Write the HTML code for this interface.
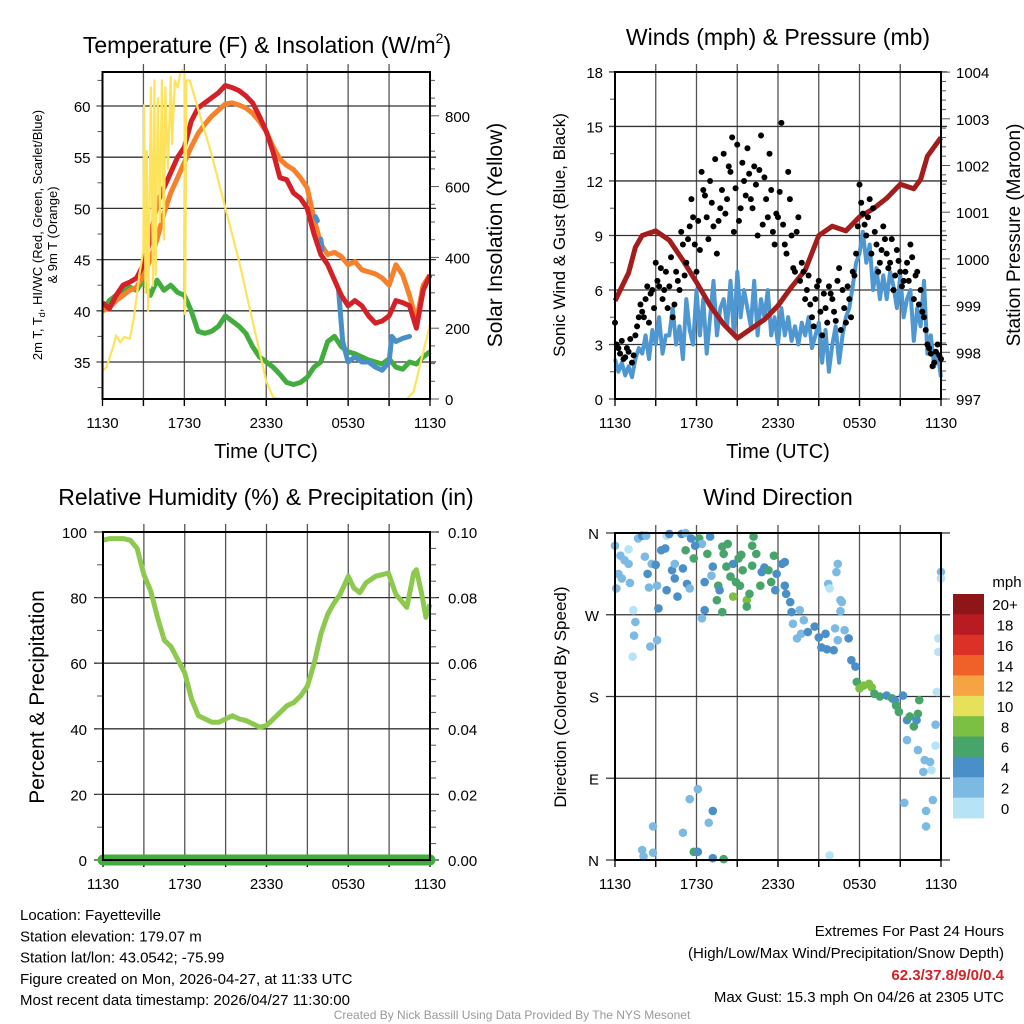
<!DOCTYPE html>
<html><head><meta charset="utf-8"><style>
html,body{margin:0;padding:0;background:#fff;}
svg{display:block;font-family:"Liberation Sans",sans-serif;}
</style></head><body>
<svg id="c" width="1024" height="1024" viewBox="0 0 1024 1024" xmlns="http://www.w3.org/2000/svg"></svg>
<script>
// ---------- DATA ----------
const tickLabels = ["1130","1730","2330","0530","1130"];
const tHours = [0,0.5,1,1.5,2,2.5,3,3.5,4,4.5,5,5.5,6,6.5,7,7.5,8,8.5,9,9.5,10,10.5,11,11.5,12,12.5,13,13.5,14,14.5,15,15.5,16,16.5,17,17.5,18,18.5,19,19.5,20,20.5,21,21.5,22,22.5,23,23.5,24];
const tempRed = [40.8,40.2,41.5,42.5,42.8,43.2,44.5,47,50.5,52,53.5,55,56,58.5,59.8,60.3,60.8,61.3,62,61.8,61.5,61,60.3,59,57.5,55.5,53,52.8,51.5,51,50,47.5,45.5,44.5,43,41.5,40.5,41,40.5,39.5,38.8,39,39.5,41,40.8,40.5,38.3,42,43.5];
const temp9m = [40,40.3,41,41.5,42,42.3,43.5,45,47,49.5,51.5,53,54.5,56,57.3,58.2,59,59.6,60.2,60.3,60.1,59.8,59.3,58.5,57.5,56,54.8,54.2,53.8,53,52,49,46.5,45.5,45.7,45.3,44.5,44.8,44,43.8,43.6,43.2,42.5,44.5,43.5,41.5,39,42.5,43.5];
const dewGreen = [40,41,41.5,42,42.3,42,43,41.5,43,42,42.5,41.8,41.5,40,38,37.8,38,38.5,39.5,39,38.5,37.8,36.5,35.5,35,34.5,33.8,33,32.8,33,33.5,34.5,35,37,37.5,36.5,36,35.8,35.5,35.2,35,34.8,35.3,34.5,34.3,35,34.8,35.5,36];
const wcHours = [15.6,15.75,15.8,16.0,16.1,16.3,16.9,17.0,17.3,17.6,18,18.5,19,19.5,20,20.5,21,21.2,21.5,22,22.5];
const windChill = [49.2,48.8,null,47,46,null,43.2,null,42,37,35,35.5,35,35,34.5,34.2,35,37.5,37,37.3,37.5];
const solarHours = [0,0.3,0.8,1,1.3,1.6,2,2.3,2.7,3,3.05,3.15,3.25,3.35,3.45,3.55,3.7,3.8,3.9,4.05,4.2,4.35,4.5,4.6,4.8,5,5.1,5.3,5.5,5.7,5.9,6.0,6.05,6.15,6.4,7,8,9,10,11,12,12.5,13,22.3,22.8,23.3,24];
const solar = [80,90,150,180,160,175,170,230,350,420,830,300,700,250,550,880,320,900,350,850,500,900,450,880,650,910,720,900,880,920,930,920,240,900,900,820,690,540,390,220,50,5,0,0,20,100,210];

const presHours = [0,1,1.5,2,3,4,5,6,7,8,9,10,11,12,13,14,15,16,17,18,19,20,21,22,22.5,23,24];
const pressure = [999.1,999.7,1000.25,1000.5,1000.6,1000.4,999.97,999.5,999.0,998.6,998.3,998.5,998.7,999.0,999.4,999.76,1000.5,1000.7,1000.6,1000.9,1001.07,1001.3,1001.6,1001.5,1001.7,1002.2,1002.6];
const wind = [2.2,1.5,2,1.3,1.8,1.2,2.2,2.8, 2.5,3.5,2.2,3.8,3,4.5,2.5,3.5, 3.5,5,3,4,2.2,5.5,3.8,3, 6,3.5,5.5,2.5,4.5,6.5,3.5,5, 5.5,4,6.5,3.5,7,4.5,6,5, 4,6.5,3.5,5.5,4.5,6,3.5,4.5, 3,5,3.5,4.5,3.2,4,3,4.2, 3.5,4.5,2.8,3.5,4.2,2,3.8,1.5, 3,4,2,3.5,4.5,5,6.2,7.5, 8,9.2,7.5,8.5,6,7.2,5.5,6.8, 5.5,7,6.2,5,6.8,4.5,5.5,6, 3.2,5,4,6.5,2.5,3.5,1.8,2.5, 1.2];
const gustA = [4.2,2.8,3.2,2.3,2.6,2,3.5,4.5, 4.8,5.5,4.2,6,7.5,6.2,5.5,7, 6.2,4.5,7,6,8.5,7.5,9.5,10, 7,8.2,11.5,10,12,9.5,8,10.5, 13.5,11,12.5,9.2,14,10.5,12,13.8, 11,12.8,9,14.5,12.2,10,11.5,8.5, 10,15.2,8.5,12.5,9,7,10,7.5, 5.5,6.8,4.5,5.5,6.5,3.5,5,6.2, 5.5,4.3,7.2,6,4.2,5.5,7,8, 11.8,10.2,9,11,10.5,8.5,7.5,9.5, 8,7.5,6,8.2,7,6.5,7.5,8.5, 5.5,7,6,4.5,3,2.5,2,3, 2.2];
const gustB = [3,2.5,2.2,2.8,3.3,2.4,4,5.2, 4.5,6.2,5.8,5,6.5,7.2,6,5, 7.8,5.2,6.5,9.2,6.8,8.8,11,8.5, 9.8,12.5,11.2,8.8,10.8,13.2,9.8,11.5, 10.2,12.8,14.4,11.6,9.8,13,11.2,12.4, 10.5,11.8,12.6,9.6,11,13.5,9.2,10.2, 11.4,9.6,8,11,7.2,9.2,6.5,7, 6,5.2,4,6.2,4.8,5.8,4.2,5.8, 4.8,6.5,3.8,5,6.2,4.5,6.8,9.5, 10.8,9.6,10,8,9.2,7,8.2,8.8, 7.2,8.8,6.8,7.6,6.2,7,6.5,7.8, 6.8,5.2,4.8,3.8,2.8,1.8,2.6,2.4];

const rhHours = [0,0.5,1,1.5,2,2.5,3,3.5,4,4.5,5,5.5,6,6.5,7,7.5,8,8.5,9,9.5,10,10.5,11,11.5,12,12.5,13,13.5,14,14.5,15,15.5,16,16.5,16.9,17.4,18,18.4,18.85,19.3,20,20.95,21.5,22.3,22.8,23,23.4,23.7,24];
const rh = [97.5,98,98,98,97.5,95,87,82,74,67,65,61,57,49,44,43,42,42,43,44,43,42.5,41.5,40.5,41,43,45,47,48,50,53,60,69,75,78,81,86.5,83,81.5,84.5,86.5,87.5,81,77,87.5,88.5,81,74,78];
const precipHours = [0,24];
const precip = [0,0];

const dirHours = [0,0.4,0.7,1,1,0.25,0.5,0.1,1.1,1.7,2,2.3,2.2,2.4,2.5,2.7,3,3.1,3.2,3.4,3.7,3.8,4,4.2,4.4,4.4,4.9,5.2,5,5.3,5.5,4.6,3.8,5.6,5.8,5.2,6.2,6.4,5.9,7,6.6,6.6,6.4,7.2,7.1,7.6,7.7,7.5,7.9,6.8,8,8.2,8.5,8.7,8.7,8.9,9.1,9.3,9.2,9.4,9.7,9.7,9.9,10.1,10.2,10.1,10.4,10.7,10.8,11,11.3,11.5,11.7,11.8,11.9,12.3,12.5,8.3,7.9,
12.5,12.6,12.9,13,13.6,13.9,13.1,13.4,13.7,14.2,14.7,15,15.2,15.5,15.6,16.1,16.2,16.4,16.9,17.2,17.4,17.7,17.8,18.3,18.7,18.9,18,19.1,19.5,20,20.4,20.6,20.7,20.9,21.2,21.5,21.7,22,22.2,22.3,22.4,23.7,21.5,22.3,22.8,23.2,22.7,23.3,23.6,23.6,23.8,23.8,24,24,16.4,16.3,15.7,15.8,16.6,16.7,16.6,
1.35,1.5,1.4,2.6,3.1,1.3,6.1,5.5,7.2,6.9,5,2.8,2,2.1,2.8,5.8,6.1,7.2,8,15.8,21.3,22.9,23.4,22.9];
const dirDeg = [346,335,330,326,342,315,310,299,305,354,357,357,334,315,300,326,325,302,277,341,343,357,359,319,326,310,359,360,321,304,299,290,297,354,332,341,354,348,346,356,306,275,266,323,313,302,297,286,273,337,337,323,312,290,326,306,332,336,302,319,286,279,293,324,356,346,337,302,317,322,319,306,335,297,315,326,328,348,345,
302,293,284,273,275,264,260,244,249,251,257,245,234,249,232,231,255,242,253,244,220,213,196,192,194,190,189,183,180,181,178,176,170,163,181,154,158,147,154,161,176,185,132,121,110,108,97,99,126,149,244,229,317,310,326,317,304,299,286,284,274,
275,262,247,235,242,224,78,67,54,41,30,37,11,4,8,9,9,2,1,5,63,54,66,37];
const dirSpeed = [3,3,3,3,1,3,3,3,3,3,5,3,3,5,3,3,5,3,5,5,5,1,5,5,3,5,5,3,5,5,3,5,5,5,7,7,7,3,5,5,5,5,3,5,3,7,5,7,7,7,7,7,7,9,5,7,7,7,7,7,9,7,7,7,7,7,7,7,5,5,7,7,7,5,5,5,5,7,7,
5,5,5,5,3,3,3,3,3,5,5,5,5,5,5,5,3,3,3,5,5,5,7,9,9,9,9,7,7,5,7,5,7,7,5,5,7,7,5,7,7,1,3,3,3,3,3,1,1,3,1,1,3,1,3,3,3,1,3,3,3,
1,3,3,3,3,1,3,3,5,3,3,3,3,3,3,7,5,5,7,1,3,3,3,3];
const cbLabels = ["20+","18","16","14","12","10","8","6","4","2","0"];
const cbColors = ["#8e1518","#b81c22","#dc3127","#ef6128","#f6a443","#e6e05a","#7bc043","#47a56c","#4a8fc8","#7cb9e3","#b7e3f7"];

// ---------- HELPERS ----------
const NS="http://www.w3.org/2000/svg";
const svg=document.getElementById('c');
function mk(tag,attrs,parent){const e=document.createElementNS(NS,tag);for(const k in attrs)e.setAttribute(k,attrs[k]);(parent||svg).appendChild(e);return e;}
function txt(s,x,y,size,opts,parent){opts=opts||{};const t=mk('text',{x:x,y:y,'font-size':size,'text-anchor':opts.anchor||'middle',fill:opts.fill||'#000','font-weight':opts.weight||'normal'},parent);if(opts.rot)t.setAttribute('transform','rotate('+opts.rot+' '+x+' '+y+')');t.textContent=s;return t;}
function grp(name){const g=mk('g',{});return g;}
function pathFrom(xs,ys,sx,sy){let d='';let pen=false;for(let i=0;i<xs.length;i++){if(ys[i]==null){pen=false;continue;}d+=(pen?'L':'M')+sx(xs[i]).toFixed(1)+' '+sy(ys[i]).toFixed(1);pen=true;}return d;}

function panelFrame(name,x0,x1,y0,y1,sx){
  const g=grp(name+'-grid');
  for(let h=3;h<24;h+=3){mk('line',{x1:sx(h),x2:sx(h),y1:y0-8,y2:y1+7,stroke:'#555','stroke-width':1.3},g);}
  for(let h=0;h<=24;h+=3){mk('line',{x1:sx(h),x2:sx(h),y1:y1,y2:y1+7,stroke:'#000','stroke-width':1.3},g);}
  const tl=grp(name+'-x-tick-labels');
  for(let i=0;i<tickLabels.length;i++){txt(tickLabels[i],sx(i*6),y1+29,15,{},tl);}
  return g;
}
function border(name,x0,x1,y0,y1){const r=mk('rect',{x:x0,y:y0,width:x1-x0,height:y1-y0,fill:'none',stroke:'#000','stroke-width':2});}
function hgrid(g,x0,x1,y,len){mk('line',{x1:x0-len,x2:x1+len,y1:y,y2:y,stroke:'#333','stroke-width':1.3},g);}
function yTicks(g,x,y,side,len){mk('line',{x1:x,x2:x+side*len,y1:y,y2:y,stroke:'#555','stroke-width':1},g);}

// ================= PANEL 1 =================
(function(){
  const x0=102.5,x1=430,y0=72,y1=399;
  const sx=h=>x0+(x1-x0)*h/24, sT=t=>106+(60-t)*10.24, sS=s=>399-s*0.354;
  const tt=mk('text',{x:267,y:53,'font-size':23,'text-anchor':'middle'});
  
  tt.innerHTML='Temperature (F) &amp; Insolation (W/m<tspan font-size="14" dy="-10">2</tspan><tspan dy="10">)</tspan>';
  const g=panelFrame('temp',x0,x1,y0,y1,sx);
  const ga=grp('temp-y-axis');
  for(let t=35;t<=60;t+=5){hgrid(g,x0,x1,sT(t),6);txt(String(t),x0-12,sT(t)+6,15,{anchor:'end'},ga);}
  for(let t=32.5;t<=62.5;t+=2.5){yTicks(ga,x0,sT(t),-1,5);}
  for(let s=0;s<=900;s+=50){yTicks(ga,x1,sS(s),1,s%200===0?9:5);}
  for(let s=0;s<=800;s+=200){txt(String(s),x1+15,sS(s)+6,15,{anchor:'start'},ga);}
  const lbl=mk('text',{x:42,y:235,'font-size':13,'text-anchor':'middle',transform:'rotate(-90 42 235)'});
  
  lbl.innerHTML='2m T, T<tspan font-size="9" dy="3">d</tspan><tspan dy="-3">, HI/WC (Red, Green, Scarlet/Blue)</tspan>';
  txt("& 9m T (Orange)",57,235,13,{rot:-90});
  txt("Solar Insolation (Yellow)",502,235,21,{rot:-90});
  txt("Time (UTC)",266,458,20);
  const cl=mk('clipPath',{id:'cp1'});mk('rect',{x:x0,y:y0-4,width:x1-x0+4,height:y1-y0+4},cl);
  const s=grp('temp-series');s.setAttribute('clip-path','url(#cp1)');
  let p;
  p=mk('path',{d:pathFrom(tHours,dewGreen,sx,sT),fill:'none',stroke:'#43ac3f','stroke-width':5,'stroke-linejoin':'round'},s);
  p=mk('path',{d:pathFrom(tHours,temp9m,sx,sT),fill:'none',stroke:'#f5812c','stroke-width':5,'stroke-linejoin':'round'},s);
  p=mk('path',{d:pathFrom(wcHours,windChill,sx,sT),fill:'none',stroke:'#4a90c8','stroke-width':5,'stroke-linejoin':'round','stroke-linecap':'round'},s);
  p=mk('path',{d:pathFrom(tHours,tempRed,sx,sT),fill:'none',stroke:'#d42027','stroke-width':5,'stroke-linejoin':'round'},s);
  p=mk('path',{d:pathFrom(solarHours,solar,sx,sS),fill:'none',stroke:'#fde35c','stroke-width':2.2,'stroke-linejoin':'round'},s);
  border('temp',x0,x1,y0,y1);
})();

// ================= PANEL 2 =================
(function(){
  const x0=615,x1=941,y0=72,y1=399;
  const sx=h=>x0+(x1-x0)*h/24, sV=v=>399-v*18.17, sP=p=>399-(p-997)*46.7;
  txt("Winds (mph) & Pressure (mb)",778,45,23);
  const g=panelFrame('wind',x0,x1,y0,y1,sx);
  const ga=grp('wind-y-axis');
  for(let v=0;v<=18;v+=3){hgrid(g,x0,x1,sV(v),6);txt(String(v),x0-12,sV(v)+6,15,{anchor:'end'},ga);}
  for(let v=0;v<=18;v+=1.5){yTicks(ga,x0,sV(v),-1,5);}
  for(let p=997;p<=1004.01;p+=0.2){yTicks(ga,x1,sP(p),1,Math.abs(p-Math.round(p))<0.01?9:5);}
  for(let p=997;p<=1004;p++){txt(String(p),x1+15,sP(p)+6,15,{anchor:'start'},ga);}
  txt("Sonic Wind & Gust (Blue, Black)",565,235,17,{rot:-90});
  txt("Station Pressure (Maroon)",1020,235,19,{rot:-90});
  txt("Time (UTC)",778,458,20);
  const s=grp('wind-series');
  const wh=wind.map((_,i)=>i*0.25);
  let p=mk('path',{d:pathFrom(wh,wind,sx,sV),fill:'none',stroke:'#4f97d1','stroke-width':4,'stroke-linejoin':'round'},s);
  const gd=grp('gust-dots');
  gustA.forEach((v,i)=>{const c=mk('circle',{cx:sx(i*0.25),cy:sV(v),r:3,fill:'#000'},gd);});
  gustB.forEach((v,i)=>{const c=mk('circle',{cx:sx(i*0.25+0.125),cy:sV(v),r:3,fill:'#000'},gd);});
  p=mk('path',{d:pathFrom(presHours,pressure,sx,sP),fill:'none',stroke:'#a31d1d','stroke-width':5,'stroke-linejoin':'round'},s);
  border('wind',x0,x1,y0,y1);
})();

// ================= PANEL 3 =================
(function(){
  const x0=103,x1=430,y0=532,y1=860;
  const sx=h=>x0+(x1-x0)*h/24, sR=r=>860-r*3.28, sPr=p=>860-p*3280;
  txt("Relative Humidity (%) & Precipitation (in)",266,505,23);
  const g=panelFrame('rh',x0,x1,y0,y1,sx);
  const ga=grp('rh-y-axis');
  for(let r=0;r<=100;r+=20){hgrid(g,x0,x1,sR(r),9);txt(String(r),x0-16,sR(r)+6,15,{anchor:'end'},ga);}
  for(let r=0;r<=100;r+=10){yTicks(ga,x0,sR(r),-1,6);}
  for(let q=0;q<=0.1001;q+=0.005){yTicks(ga,x1,sPr(q),1,6);}
  for(let q=0;q<=0.1001;q+=0.02){txt(q.toFixed(2),x1+18,sPr(q)+6,15,{anchor:'start'},ga);}
  txt("Percent & Precipitation",44,697,21,{rot:-90});
  const s=grp('rh-series');
  let p=mk('path',{d:pathFrom(rhHours,rh,sx,sR),fill:'none',stroke:'#8dc84f','stroke-width':5,'stroke-linejoin':'round'},s);
  p=mk('path',{d:pathFrom(precipHours,precip,sx,sPr),fill:'none',stroke:'#43ac3f','stroke-width':11,'stroke-linecap':'round'},s);
  border('rh',x0,x1,y0,y1);
  mk('line',{x1:x0,x2:x1,y1:y1,y2:y1,stroke:'#000','stroke-width':1.5});
})();

// ================= PANEL 4 =================
(function(){
  const x0=615,x1=941,y0=533,y1=860;
  const sx=h=>x0+(x1-x0)*h/24, sD=d=>860-d/360*327;
  txt("Wind Direction",778,505,23);
  const g=panelFrame('dir',x0,x1,y0,y1,sx);
  const ga=grp('dir-y-axis');
  const dl=["N","E","S","W","N"];
  for(let i=0;i<5;i++){const d=i*90;hgrid(g,x0,x1,sD(d),9);txt(dl[i],x0-16,sD(d)+6,15,{anchor:'end'},ga);}
  txt("Direction (Colored By Speed)",566,697,17,{rot:-90});
  const pts=grp('direction-points');
  const col=v=>cbColors[10-Math.min(10,Math.floor(v/2))];
  dirHours.forEach((h,i)=>{const c=mk('circle',{cx:sx(h),cy:sD(dirDeg[i]),r:4.3,fill:col(dirSpeed[i])},pts);});
  const cb=grp('speed-colorbar');
  const bx=953,by=594,bh=224/11;
  txt("mph",1007,587,15,{},cb);
  cbColors.forEach((c,i)=>{const r=mk('rect',{x:bx,y:by+i*bh,width:31,height:bh+0.4,fill:c},cb);
    txt(cbLabels[i],1005,by+i*bh+bh/2+6,15,{},cb);});
  border('dir',x0,x1,y0,y1);
})();

// ================= FOOTER =================
(function(){
  const f=grp('station-info');
  const lines=["Location: Fayetteville","Station elevation: 179.07 m","Station lat/lon: 43.0542; -75.99","Figure created on Mon, 2026-04-27, at 11:33 UTC","Most recent data timestamp: 2026/04/27 11:30:00"];
  lines.forEach((l,i)=>txt(l,20,920+i*21.3,15,{anchor:'start'},f));
  const e=grp('extremes-info');
  txt("Extremes For Past 24 Hours",1004,936,15,{anchor:'end'},e);
  txt("(High/Low/Max Wind/Precipitation/Snow Depth)",1004,958,15,{anchor:'end'},e);
  txt("62.3/37.8/9/0/0.4",1004,980,15,{anchor:'end',fill:'#d42027',weight:'bold'},e);
  txt("Max Gust: 15.3 mph On 04/26 at 2305 UTC",1004,1002,15,{anchor:'end'},e);
  txt("Created By Nick Bassill Using Data Provided By The NYS Mesonet",512,1019,12,{fill:'#999'});
})();
</script>
</body></html>
